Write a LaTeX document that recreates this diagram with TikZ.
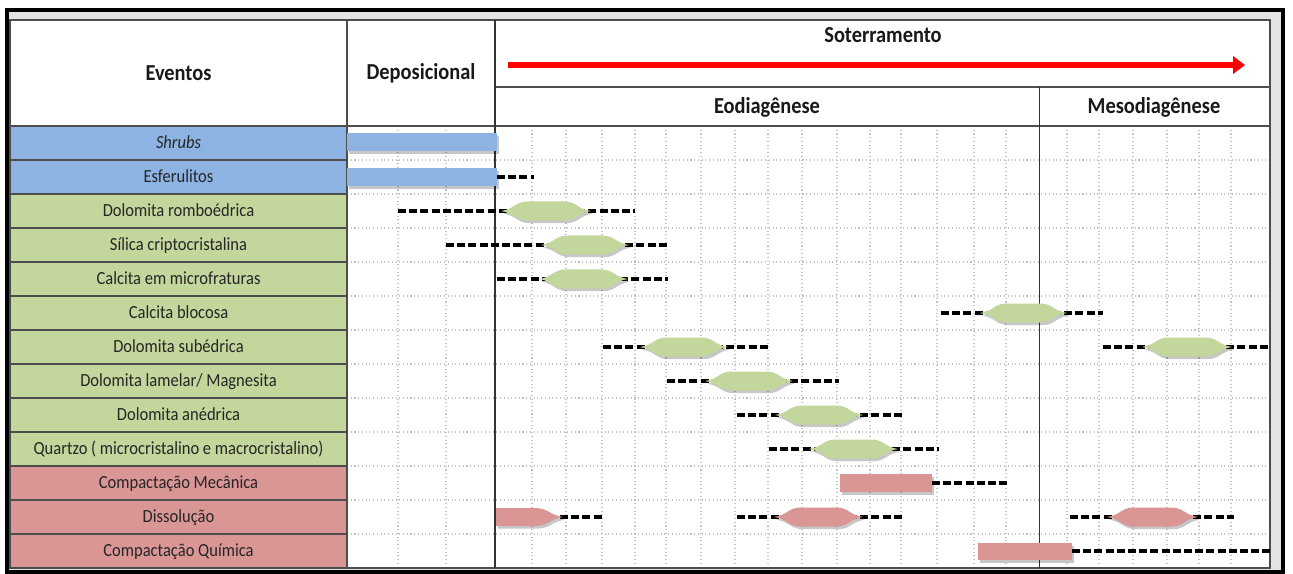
\documentclass[tikz,border=0pt]{standalone}
\usepackage{graphicx}
\usepackage{fontspec}
\setmainfont{Carlito}
\usetikzlibrary{arrows.meta}
\usetikzlibrary{positioning}
\usetikzlibrary{shadows}
\definecolor{evblue}{HTML}{8DB3E2}
\definecolor{evgreen}{HTML}{C3D69B}
\definecolor{evred}{HTML}{D99694}
\definecolor{gridgray}{HTML}{C4C4C4}
\definecolor{rulegray}{HTML}{4D4D4D}
\definecolor{evtext}{HTML}{262626}
\tikzset{
  evcell/.style={draw=rulegray, line width=1.1pt, minimum width=252.75pt, minimum height=25.5pt,
    inner sep=0pt, text height=10.5pt, text depth=2pt, text=evtext, font=\fontsize{12.4}{14}\selectfont},
  headtxt/.style={font=\fontsize{15.3}{17}\selectfont\bfseries, text=black!90},
  gridline/.style={gridgray, line width=0.8pt, dotted},
  rangeline/.style={black, line width=2.4pt, dash pattern=on 6pt off 2.4pt},
  barshadow/.style={drop shadow={shadow xshift=1.5pt, shadow yshift=-2pt, fill=black, opacity=0.22}},
}
\newcommand{\tall}[1]{\scalebox{1}[1.12]{#1}}
\newcommand{\hexbar}[4]{%
  \fill[#1, barshadow] (#3,#2) .. controls ({#3+14},{#2-2}) and ({#3+14},{#2-9.5}) .. ({#3+27},{#2-9.5})
    -- ({#4-27},{#2-9.5}) .. controls ({#4-14},{#2-9.5}) and ({#4-14},{#2-2}) .. (#4,#2)
    .. controls ({#4-14},{#2+2}) and ({#4-14},{#2+9.5}) .. ({#4-27},{#2+9.5})
    -- ({#3+27},{#2+9.5}) .. controls ({#3+14},{#2+9.5}) and ({#3+14},{#2+2}) .. cycle;}
\newcommand{\evrange}[3]{\draw[rangeline] (#2,#1) -- (#3,#1);}
\begin{document}
\begin{tikzpicture}[x=0.75pt, y=-0.75pt]
        \useasboundingbox (0,0) rectangle (1293,574);
        \fill[gray!22] (7,10) rectangle (1283,572);
        \fill[white] (10,20) rectangle (1270,568);

        \foreach \x in {398,446,532,566,602,635,666,701,735,768,802,837,870,901,937,974,1006,1067,1099,1133,1167,1199,1231}
          \draw[gridline] (\x,126) -- (\x,568);
        \foreach \i in {1,...,12}
          \draw[gridline] (347,{126+34*\i}) -- (1270,{126+34*\i});

        \draw[rulegray, line width=0.9pt] (10,20) rectangle (1270,568);
        \draw[rulegray, line width=0.9pt] (10,126) -- (1270,126);
        \draw[rulegray, line width=0.9pt] (495,87) -- (1270,87);
        \draw[rulegray, line width=0.9pt] (347,20) -- (347,568);
        \draw[black!80, line width=0.9pt] (495,20) -- (495,568);
        \draw[black!80, line width=0.6pt] (1039,87) -- (1039,568);

        \node[headtxt] (eventos) at (178.5,73) {\tall{Eventos}};
        \node[headtxt] (deposicional) at (421,73) {\tall{Deposicional}};
        \node[headtxt] (soterramento) at (883,35) {\tall{Soterramento}};
        \node[headtxt] (eodiagenese) at (767,107) {\tall{Eodiagênese}};
        \node[headtxt] (mesodiagenese) at (1154,107) {\tall{Mesodiagênese}};

        \coordinate (sotstart) at (508,65);
        \coordinate (sotend) at (1245,65);
        \draw[red, line width=3.8pt, -{Triangle[length=9pt,width=13pt]}, drop shadow={shadow xshift=1.5pt, shadow yshift=-2pt, opacity=0.2}] (sotstart) -- (sotend);

        \foreach \name/\txt/\col [count=\i] in {
            shrubs/\textit{Shrubs}/evblue,
            esferulitos/Esferulitos/evblue,
            romboedrica/Dolomita romboédrica/evgreen,
            silica/Sílica criptocristalina/evgreen,
            microfraturas/Calcita em microfraturas/evgreen,
            blocosa/Calcita blocosa/evgreen,
            subedrica/Dolomita subédrica/evgreen,
            lamelar/{Dolomita lamelar/ Magnesita}/evgreen,
            anedrica/Dolomita anédrica/evgreen,
            quartzo/Quartzo ( microcristalino e macrocristalino)/evgreen,
            mecanica/Compactação Mecânica/evred,
            dissolucao/Dissolução/evred,
            quimica/Compactação Química/evred}
          \node[evcell, fill=\col] (\name) at (178.5,{109+34*\i}) {\tall{\txt}};

        \fill[evblue, barshadow] (347,133) rectangle (497,151);
        \fill[evblue, barshadow] (347,168) rectangle (497,186);
        \evrange{177}{497}{534}

        \evrange{211}{398}{635}
        \hexbar{evgreen}{211}{501}{591}
        \evrange{245}{446}{668}
        \hexbar{evgreen}{245}{541}{629}
        \evrange{279}{497}{668}
        \hexbar{evgreen}{279}{539}{628}
        \evrange{313}{941}{1103}
        \hexbar{evgreen}{313}{980}{1067}
        \evrange{347}{603}{768}
        \hexbar{evgreen}{347}{640}{728}
        \evrange{347}{1103}{1270}
        \hexbar{evgreen}{347}{1142}{1232}
        \evrange{381}{667}{839}
        \hexbar{evgreen}{381}{705}{793}
        \evrange{415}{737}{902}
        \hexbar{evgreen}{415}{775}{863}
        \evrange{449}{769}{939}
        \hexbar{evgreen}{449}{809}{898}

        \evrange{483}{932}{1009}
        \fill[evred, barshadow] (840,474) rectangle (932,492);
        \evrange{517}{560}{602}
        \fill[evred, barshadow] (496,508) -- (534,508) .. controls (549,508) and (549,515) .. (563,517)
          .. controls (549,519) and (549,526) .. (534,526) -- (496,526) -- cycle;
        \evrange{517}{737}{902}
        \hexbar{evred}{517}{774}{863}
        \evrange{517}{1070}{1234}
        \hexbar{evred}{517}{1107}{1198}
        \evrange{551}{1072}{1270}
        \fill[evred, barshadow] (978,543) rectangle (1072,560);

        \draw[black, line width=3.4pt] (7,10) rectangle (1283,572);
\end{tikzpicture}
\end{document}
